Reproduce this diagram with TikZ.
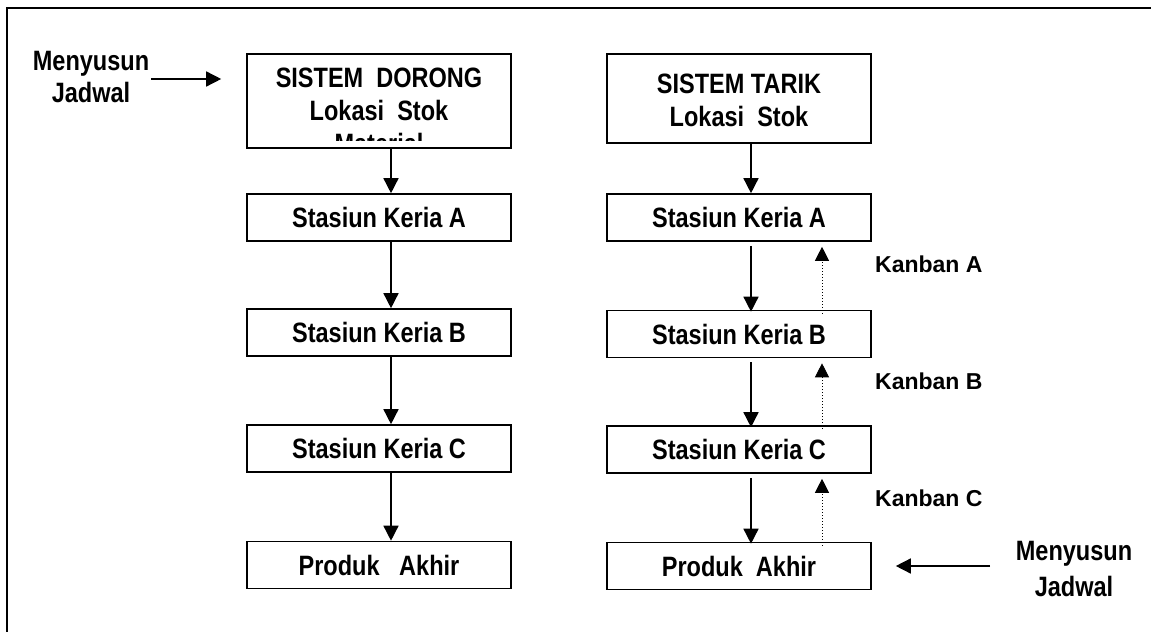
\documentclass[tikz,border=0pt]{standalone}
\usepackage{fontspec}
\setmainfont{Liberation Sans}
\newfontfamily\narrowsans[FakeStretch=0.84]{Liberation Sans}
\usetikzlibrary{arrows.meta}
\begin{document}
\begin{tikzpicture}[x=1bp,y=-1bp,
  boxtext/.style={font=\narrowsans\bfseries\fontsize{28bp}{33bp}\selectfont},
  stationbox/.style={boxtext, draw, line width=1.6bp, minimum width=264bp,
    minimum height=47bp, inner sep=0pt},
  titlebox/.style={draw, line width=1.6bp, minimum width=264bp, inner sep=0pt},
  titletext/.style={boxtext, align=center, inner sep=0pt},
  sidetext/.style={boxtext, align=center, inner sep=0pt},
  kanbantext/.style={font=\bfseries\fontsize{23bp}{28bp}\selectfont, anchor=west, inner sep=0pt},
  flow/.style={-{Triangle[width=15bp,length=15bp]}, line width=1.5bp},
  kanbanflow/.style={-{Triangle[width=14bp,length=14bp]}, line width=0.9bp,
    dash pattern=on 1bp off 2bp}
]
\useasboundingbox (0,0) rectangle (1151,632);
% outer frame
\draw[line width=2.2bp] (7,632) -- (7,8) -- (1151,8);

% push system (left column)
\node[titlebox, minimum height=94bp] (dorong) at (379,101) {};
\begin{scope}
  \clip ([yshift=8bp]dorong.south west) rectangle (dorong.north east);
  \node[titletext] (dorongtext) at (379,111) {SISTEM\ \ DORONG\\Lokasi\ \ Stok\\Material};
\end{scope}
\node[stationbox] (lA) at (379,217.5) {Stasiun Keria A};
\node[stationbox] (lB) at (379,332.5) {Stasiun Keria B};
\node[stationbox] (lC) at (379,448.5) {Stasiun Keria C};
\node[stationbox] (lP) at (379,565) {Produk\ \ \ Akhir};

\draw[flow] ([xshift=12bp]dorong.south) -- ([xshift=12bp]lA.north);
\draw[flow] ([xshift=12bp]lA.south) -- ([xshift=12bp]lB.north);
\draw[flow] ([xshift=12bp]lB.south) -- ([xshift=12bp]lC.north);
\draw[flow] ([xshift=12bp]lC.south) -- ([xshift=12bp]lP.north);

\node[sidetext, font=\narrowsans\bfseries\fontsize{28bp}{32bp}\selectfont] (schedL) at (91,77) {Menyusun\\Jadwal};
\coordinate (inL) at (151,79);
\draw[flow, shorten >=25bp] (inL) -- (inL -| dorong.west);

% pull system (right column)
\node[titlebox, minimum height=89bp] (tarik) at (739,98.5) {};
\node[titletext] (tariktext) at (739,100) {SISTEM TARIK\\Lokasi\ \ Stok};
\node[stationbox] (rA) at (739,217.5) {Stasiun Keria A};
\node[stationbox] (rB) at (739,334) {Stasiun Keria B};
\node[stationbox] (rC) at (739,449.5) {Stasiun Keria C};
\node[stationbox] (rP) at (739,566) {Produk\ \ Akhir};

\draw[flow] ([xshift=12bp]tarik.south) -- ([xshift=12bp]rA.north);
\draw[flow] ([xshift=12bp,yshift=-4bp]rA.south) -- ([xshift=12bp,yshift=-2bp]rB.north);
\draw[flow] ([xshift=12bp,yshift=-4bp]rB.south) -- ([xshift=12bp,yshift=-2bp]rC.north);
\draw[flow] ([xshift=12bp,yshift=-4bp]rC.south) -- ([xshift=12bp,yshift=-2bp]rP.north);

% kanban signals travelling upstream
\draw[kanbanflow] ([xshift=83bp,yshift=-4bp]rB.north) -- ([xshift=83bp,yshift=-5bp]rA.south);
\draw[kanbanflow] ([xshift=83bp,yshift=-4bp]rC.north) -- ([xshift=83bp,yshift=-5bp]rB.south);
\draw[kanbanflow] ([xshift=83bp,yshift=-4bp]rP.north) -- ([xshift=83bp,yshift=-5bp]rC.south);

\node[kanbantext] (kA) at (875,264) {Kanban A};
\node[kanbantext] (kB) at (875,381) {Kanban B};
\node[kanbantext] (kC) at (875,498) {Kanban C};

\node[sidetext, font=\narrowsans\bfseries\fontsize{28bp}{36bp}\selectfont] (schedR) at (1074,569) {Menyusun\\Jadwal};
\coordinate (inR) at (990,566);
\draw[flow, shorten >=24bp] (inR) -- (inR -| rP.east);
\end{tikzpicture}
\end{document}
